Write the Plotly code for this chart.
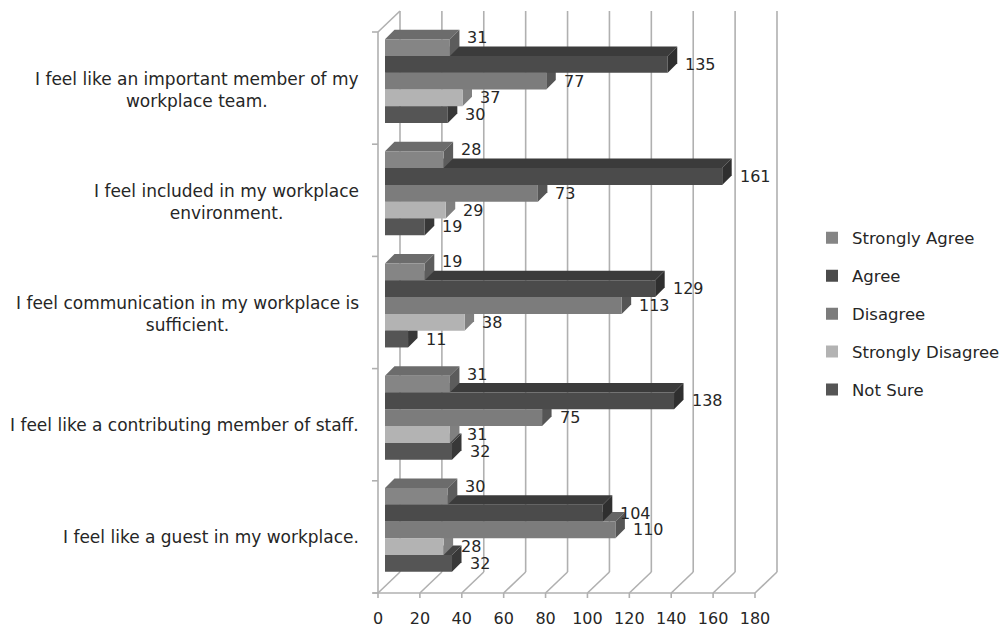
import plotly.graph_objects as go

categories = [
    "I feel like an important member of my<br>workplace team.",
    "I feel included in my workplace<br>environment.",
    "I feel communication in my workplace is<br>sufficient.",
    "I feel like a contributing member of staff.",
    "I feel like a guest in my workplace.",
]
series_names = ["Strongly Agree", "Agree", "Disagree", "Strongly Disagree", "Not Sure"]
strongly_agree = [31, 28, 19, 31, 30]
agree = [135, 161, 129, 138, 104]
disagree = [77, 73, 113, 75, 110]
strongly_disagree = [37, 29, 38, 31, 28]
not_sure = [30, 19, 11, 32, 32]
x_ticks = [0, 20, 40, 60, 80, 100, 120, 140, 160, 180]

values = [strongly_agree, agree, disagree, strongly_disagree, not_sure]
front_colors = ["#858585", "#4b4b4b", "#7c7c7c", "#b3b3b3", "#555555"]
top_colors = ["#6c6c6c", "#3b3b3b", "#666666", "#9a9a9a", "#444444"]
side_colors = ["#5c5c5c", "#2f2f2f", "#555555", "#808080", "#383838"]

FONT = "DejaVu Sans"
TXT = "#262626"
GRID = "#b0b0b0"

# layout geometry (pixels)
W, H = 1001, 628
L, R, T, B = 385, 239, 25, 42
PW, PH = W - L - R, H - T - B
XMAX = 180
NCAT = len(categories)
BARGAP = 0.252
nser = len(series_names)
bw = (1 - BARGAP) / nser

px_x = PW / XMAX          # pixels per x unit
px_y = PH / NCAT          # pixels per category unit
DEPTH = 9.5               # bar depth in px
ddx = DEPTH / px_x
ddy = DEPTH / px_y

FRONT = (-7, 7)           # front plane offset (px right, px down)
BACK = (15, -14)          # back wall offset


def paper_x(px):
    return (px - L) / PW


def paper_y(py):
    return (H - B - py) / PH


def vx(v):
    return L + v * px_x


fig = go.Figure()
shapes = []

bottom_px = T + PH
top_px = T
line = dict(color=GRID, width=1.6)


def pline(x0, y0, x1, y1):
    shapes.append(dict(type="line", xref="paper", yref="paper", layer="below",
                       x0=paper_x(x0), x1=paper_x(x1), y0=paper_y(y0), y1=paper_y(y1), line=line))


# back wall grid lines, floor diagonals and front ticks
for t in x_ticks:
    bx = vx(t) + BACK[0]
    fx = vx(t) + FRONT[0]
    pline(bx, bottom_px + BACK[1], bx, top_px + BACK[1])
    pline(fx, bottom_px + FRONT[1], bx, bottom_px + BACK[1])
    pline(fx, bottom_px + FRONT[1], fx, bottom_px + FRONT[1] + 5)
# front floor line
pline(vx(0) + FRONT[0] - 5, bottom_px + FRONT[1], vx(XMAX) + FRONT[0], bottom_px + FRONT[1])
# left wall front edge and top diagonal
pline(vx(0) + FRONT[0], top_px + FRONT[1], vx(0) + FRONT[0], bottom_px + FRONT[1])
pline(vx(0) + FRONT[0], top_px + FRONT[1], vx(0) + BACK[0], top_px + BACK[1])
# category boundary ticks
for k in range(NCAT + 1):
    py = top_px + k * px_y + FRONT[1]
    pline(vx(0) + FRONT[0] - 6, py, vx(0) + FRONT[0], py)

# 3D faces of bars (top faces then side faces), derived from data
tops, sides = [], []
for i, vals in enumerate(values):
    for j, v in enumerate(vals):
        c = j - (1 - BARGAP) / 2 + bw / 2 + i * bw
        y_top = c - bw / 2
        y_bot = c + bw / 2
        tops.append(dict(type="path", xref="x", yref="y", layer="below",
                         path=f"M 0,{y_top} L {v},{y_top} L {v + ddx},{y_top - ddy} L {ddx},{y_top - ddy} Z",
                         fillcolor=top_colors[i], line=dict(width=0)))
        sides.append(dict(type="path", xref="x", yref="y", layer="below",
                          path=f"M {v},{y_top} L {v + ddx},{y_top - ddy} L {v + ddx},{y_bot - ddy} L {v},{y_bot} Z",
                          fillcolor=side_colors[i], line=dict(width=0)))
shapes += tops + sides

for i, (name, vals) in enumerate(zip(series_names, values)):
    fig.add_trace(go.Bar(
        y=list(range(NCAT)), x=vals, name=name, orientation="h",
        marker=dict(color=front_colors[i], line=dict(width=0)),
        legendgroup=name, hoverinfo="x+name",
    ))

annotations = []
# value labels
for i, vals in enumerate(values):
    for j, v in enumerate(vals):
        c = j - (1 - BARGAP) / 2 + bw / 2 + i * bw
        annotations.append(dict(
            x=v, y=c, xref="x", yref="y", text=str(v), showarrow=False,
            xanchor="left", yanchor="middle", xshift=DEPTH + 6,
            yshift=10 if i == 0 else 0,
            font=dict(family=FONT, size=16, color=TXT),
        ))

# category labels
for j, cat in enumerate(categories):
    two = "<br>" in cat
    annotations.append(dict(
        x=0, xref="paper", y=j, yref="y", text=cat, showarrow=False,
        xanchor="right", yanchor="middle", align="center",
        xshift=-24, yshift=-(8.5 if two else 7),
        font=dict(family=FONT, size=17, color=TXT),
    ))

fig.update_layout(
    width=W, height=H,
    margin=dict(l=L, r=R, t=T, b=B, pad=0, autoexpand=False),
    paper_bgcolor="white", plot_bgcolor="white",
    barmode="group", bargap=BARGAP, bargroupgap=0,
    font=dict(family=FONT, color=TXT),
    legend=dict(
        xref="container", yref="container",
        x=812 / W, xanchor="left", y=1 - 314 / H, yanchor="middle",
        font=dict(family=FONT, size=16.5, color=TXT),
        traceorder="grouped", tracegroupgap=13.5, itemwidth=30,
        bgcolor="rgba(0,0,0,0)",
    ),
    shapes=shapes,
    annotations=annotations,
    showlegend=True,
)
fig.update_xaxes(
    range=[0, XMAX], tickvals=x_ticks, ticktext=[str(t) for t in x_ticks],
    showgrid=False, showline=False, zeroline=False, ticks="",
    ticklabelshift=FRONT[0], ticklabelstandoff=21, automargin=False,
    tickfont=dict(family=FONT, size=16, color=TXT),
)
fig.update_yaxes(
    range=[NCAT - 0.5, -0.5], tickvals=list(range(NCAT)), showticklabels=False,
    showline=False, showgrid=False, zeroline=False, ticks="", automargin=False,
)

fig.write_html(
    "out.html",
    config={"displayModeBar": False},
    post_script="document.body.style.margin='0';document.body.style.padding='0';",
)
